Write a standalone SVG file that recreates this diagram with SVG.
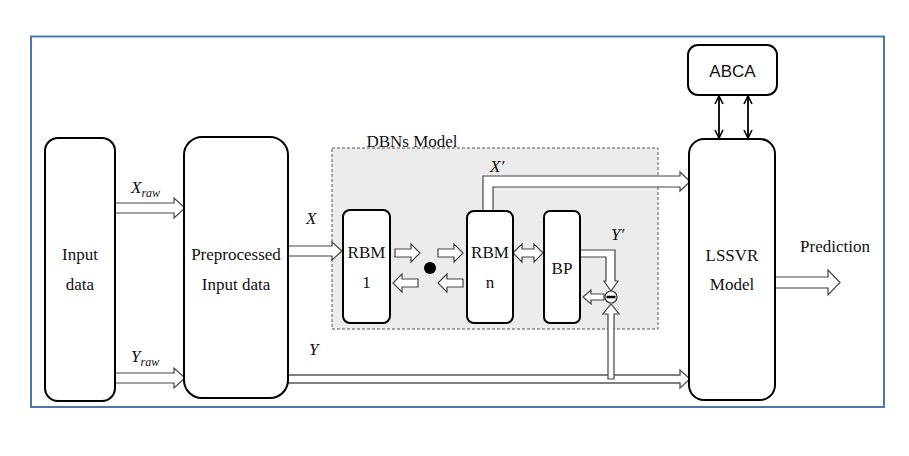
<svg xmlns="http://www.w3.org/2000/svg" width="909" height="456" viewBox="0 0 909 456">
<style>
.box{fill:#fff;stroke:#000;stroke-width:2}
.blk{fill:#fff;stroke:#444;stroke-width:1.2;stroke-linejoin:miter}
.t{font-family:"Liberation Serif",serif;font-size:17px;fill:#111;text-anchor:middle}
.ti{font-family:"Liberation Serif",serif;font-style:italic;font-size:17px;fill:#111}
.sub{font-size:12px}
.s{font-family:"Liberation Sans",sans-serif;font-size:17px;fill:#111;text-anchor:middle}
</style>
<defs>
<marker id="chev" viewBox="0 0 10 10" refX="9" refY="5" markerWidth="10" markerHeight="10" markerUnits="userSpaceOnUse" orient="auto-start-reverse">
<path d="M1,1 L9,5 L1,9" fill="none" stroke="#000" stroke-width="1.6"/>
</marker>
</defs>
<rect x="0" y="0" width="909" height="456" fill="#fff"/>
<rect x="31" y="36.5" width="853" height="370.5" fill="none" stroke="#4a78a8" stroke-width="2"/>

<g id="dbn-group">
<rect x="332" y="148" width="326" height="181" fill="#ececec" stroke="#555" stroke-width="1" stroke-dasharray="3,2"/>
<text class="t" x="412" y="147">DBNs Model</text>
</g>

<g id="connectors">
<!-- Xraw -->
<polygon class="blk" points="115,203 174,203 174,198 185,208 174,218 174,213 115,213"/>
<!-- Yraw -->
<polygon class="blk" points="115,373 174,373 174,368 185,378 174,388 174,383 115,383"/>
<!-- X -->
<polygon class="blk" points="288,246 332,246 332,242 342,251 332,260 332,256 288,256"/>
<!-- RBM1 -> dot -->
<polygon class="blk" points="395,249 411,249 411,244 420,253 411,262 411,257 395,257"/>
<polygon class="blk" points="418,279 402,279 402,274 393,283 402,292 402,287 418,287"/>
<polygon class="blk" points="438,249 454,249 454,244 463,253 454,262 454,257 438,257"/>
<polygon class="blk" points="463,279 447,279 447,274 438,283 447,292 447,287 463,287"/>
<!-- RBM n <-> BP -->
<polygon class="blk" points="513,253 522,244 522,249 534,249 534,244 543,253 534,262 534,257 522,257 522,262"/>
<!-- X' -->
<polygon class="blk" points="483,211 483,176 680,176 680,172 690,181.5 680,191 680,187 493,187 493,211"/>
<!-- Y -->
<polygon points="288,375 680,375 680,370 690,379 680,388 680,383 288,383" fill="#fff" stroke="#555" stroke-width="1.4"/>
<!-- BP to comparator -->
<polygon class="blk" points="580,250 615,250 615,281 618,281 611,291 604,281 606,281 606,257 580,257"/>
<!-- Y up to comparator -->
<polygon class="blk" points="608,379 608,314 603,314 611,304 619,314 614,314 614,379"/>
<!-- comparator back to BP -->
<polygon class="blk" points="604,294 591,294 591,290 583,297 591,304 591,300 604,300"/>
<!-- Prediction -->
<polygon class="blk" points="775,277 828,277 828,270 840,282.5 828,295 828,288 775,288"/>
<!-- ABCA <-> LSSVR -->
<line x1="719" y1="96" x2="719" y2="138" stroke="#000" stroke-width="1.8" marker-start="url(#chev)" marker-end="url(#chev)"/>
<line x1="748" y1="96" x2="748" y2="138" stroke="#000" stroke-width="1.8" marker-start="url(#chev)" marker-end="url(#chev)"/>
</g>

<g id="comparator">
<circle cx="611" cy="297" r="6" fill="#fff" stroke="#333" stroke-width="1.2"/>
<line x1="606.5" y1="297" x2="615.5" y2="297" stroke="#000" stroke-width="2.5"/>
</g>
<g id="dot"><circle cx="430" cy="268" r="6" fill="#000"/></g>

<g id="input-data">
<rect class="box" x="45" y="138" width="70" height="263" rx="13"/>
<text class="t" x="80" y="260">Input</text>
<text class="t" x="80" y="290">data</text>
</g>
<g id="preprocessed">
<rect class="box" x="184" y="137" width="104" height="261" rx="18"/>
<text class="t" x="236" y="260">Preprocessed</text>
<text class="t" x="236" y="290">Input data</text>
</g>
<g id="rbm1">
<rect class="box" x="343" y="210" width="47" height="113" rx="7"/>
<text class="t" x="366.5" y="258">RBM</text>
<text class="t" x="366.5" y="288">1</text>
</g>
<g id="rbmn">
<rect class="box" x="467" y="211" width="46" height="112" rx="7"/>
<text class="t" x="490" y="258">RBM</text>
<text class="t" x="490" y="288">n</text>
</g>
<g id="bp">
<rect class="box" x="544" y="211" width="36" height="112" rx="6"/>
<text class="t" x="562" y="274">BP</text>
</g>
<g id="lssvr">
<rect class="box" x="689" y="139" width="86" height="261" rx="15"/>
<text class="t" x="732" y="261">LSSVR</text>
<text class="t" x="732" y="290">Model</text>
</g>
<g id="abca">
<rect class="box" x="688" y="45" width="89" height="50" rx="10"/>
<text class="s" x="732.5" y="77">ABCA</text>
</g>

<g id="labels">
<text class="ti" x="131" y="193">X<tspan class="sub" dy="4">raw</tspan></text>
<text class="ti" x="131" y="362">Y<tspan class="sub" dy="4">raw</tspan></text>
<text class="ti" x="306" y="224">X</text>
<text class="ti" x="309" y="355">Y</text>
<text class="ti" x="490" y="172">X′</text>
<text class="ti" x="611" y="240">Y′</text>
<text class="t" x="835" y="252">Prediction</text>
</g>
</svg>
